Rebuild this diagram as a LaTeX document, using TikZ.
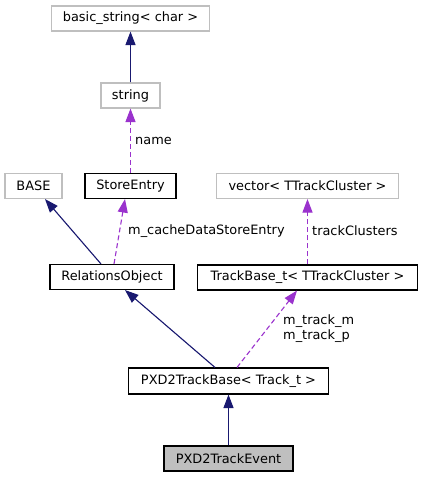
\documentclass[tikz,border=0pt]{standalone}
\usepackage{fontspec}
\setmainfont{DejaVu Sans}
\usetikzlibrary{arrows.meta}
\definecolor{edgeblue}{HTML}{191970}
\definecolor{edgepurple}{HTML}{9A32CD}
\definecolor{boxgray}{HTML}{BFBFBF}
\tikzset{
  box/.style={draw=black, line width=1.1bp, fill=white, inner sep=0pt, minimum height=25bp, font=\fontsize{12.9bp}{15bp}\selectfont, text=black},
  graybox/.style={box, draw=boxgray},
  curbox/.style={box, fill=boxgray},
  inh/.style={draw=edgeblue, line width=1.1bp, -{Triangle[length=13.5bp,width=10bp]}, fill=edgeblue},
  usage/.style={draw=edgepurple, line width=1.1bp, dash pattern=on 5bp off 3bp, -{Triangle[length=13.5bp,width=10bp,fill=edgepurple]}},
  lbl/.style={anchor=west, inner sep=0pt, font=\fontsize{12.9bp}{15bp}\selectfont, text=black, align=left}
}
\begin{document}
\begin{tikzpicture}[x=1bp,y=-1bp]
\useasboundingbox (0,0) rectangle (423,477);
\node[graybox, minimum width=158bp] (bs) at (130.5,18.5) {basic\_string< char >};
\node[graybox, minimum width=59bp] (str) at (130.5,95.5) {string};
\node[graybox, minimum width=57bp] (base) at (33.5,186) {BASE};
\node[box, minimum width=91bp] (se) at (130.5,186) {StoreEntry};
\node[graybox, minimum width=182bp] (vec) at (307.5,186) {vector< TTrackCluster >};
\node[box, minimum width=220bp] (tb) at (307.5,277.5) {TrackBase\_t< TTrackCluster >};
\node[box, minimum width=124bp] (ro) at (112,277) {RelationsObject};
\node[box, minimum width=200bp, minimum height=26bp] (pb) at (228.5,381) {PXD2TrackBase< Track\_t >};
\node[curbox, minimum width=129bp] (pe) at (228.5,458.5) {PXD2TrackEvent};

\draw[inh] (str.north) -- (bs.south);
\draw[usage] (se.north) -- (str.south);
\draw[inh] ([xshift=-11bp]ro.north) -- ([xshift=11.5bp]base.south);
\draw[usage] ([xshift=2bp]ro.north) -- ([xshift=-5.5bp]se.south);
\draw[usage] (tb.north) -- (vec.south);
\draw[inh] ([xshift=-13.5bp]pb.north) -- ([xshift=13bp]ro.south);
\draw[usage] ([xshift=8.5bp]pb.north) -- ([xshift=-10.5bp]tb.south);
\draw[inh] (pe.north) -- (pb.south);

\node[lbl] (lname) at (135,141) {name};
\node[lbl] (lcache) at (128,231) {m\_cacheDataStoreEntry};
\node[lbl] (ltc) at (312,231) {trackClusters};
\node[lbl] (ltrack) at (283,328.5) {m\_track\_m\\m\_track\_p};
\end{tikzpicture}
\end{document}
